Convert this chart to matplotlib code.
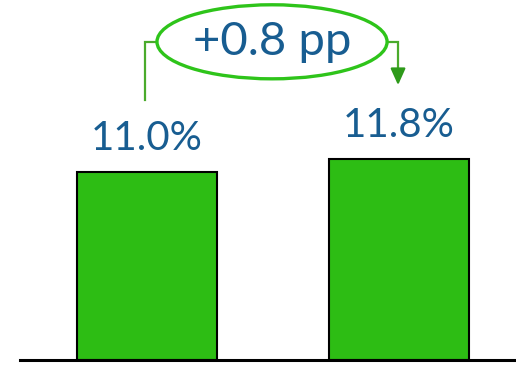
import matplotlib
matplotlib.use("Agg")
from matplotlib import pyplot as plt
from matplotlib.patches import Ellipse

categories = ["A", "B"]
values = [11.0, 11.8]
labels = ["11.0%", "11.8%"]
delta_label = "+0.8 pp"

bar_color = "#2dbd14"
text_color = "#185d91"
ring_color = "#2ec41a"
line_color = "#4aab2c"

plt.rcParams["font.family"] = ["Lato", "DejaVu Sans"]

fig = plt.figure(figsize=(5.16, 3.65), dpi=100)
ax = fig.add_axes([20 / 516, 5 / 365, 496 / 516, 360 / 365])

x = list(range(len(categories)))
ax.bar(x, values, width=0.556, color=bar_color, edgecolor="black", linewidth=1.5, zorder=2)

for xi, v, lab in zip(x, values, labels):
    ax.annotate(lab, (xi, v), xytext=(0, 24), textcoords="offset points",
                ha="center", va="center", fontsize=29, color=text_color)

# bracket with the difference bubble
y_br = 18.65
ax.plot([x[0] - 0.008, x[0] - 0.008, 0.04], [15.25, y_br, y_br],
        color=line_color, lw=1.6, solid_joinstyle="miter")
ax.plot([0.952, x[1] - 0.004, x[1] - 0.004], [y_br, y_br, 16.9],
        color=line_color, lw=1.6, solid_joinstyle="miter")
ax.annotate("", xy=(x[1] - 0.004, 15.95), xytext=(x[1] - 0.004, 17.2),
            arrowprops=dict(arrowstyle="-|>,head_width=0.45,head_length=1.0",
                            color="#2e9a1a", lw=1.6))
ax.add_patch(Ellipse((0.496, y_br), 0.913, 4.34, facecolor="white",
                     edgecolor=ring_color, lw=2.4, zorder=3))
ax.text(0.496, y_br, delta_label, ha="center", va="center", fontsize=34,
        color=text_color, zorder=4)

ax.set_xlim(-0.504, 1.464)
ax.set_ylim(0, 21.1)
for side in ["top", "left", "right"]:
    ax.spines[side].set_visible(False)
ax.spines["bottom"].set_linewidth(2.2)
ax.set_xticks([])
ax.set_yticks([])

fig.savefig("out.png", dpi=100)
